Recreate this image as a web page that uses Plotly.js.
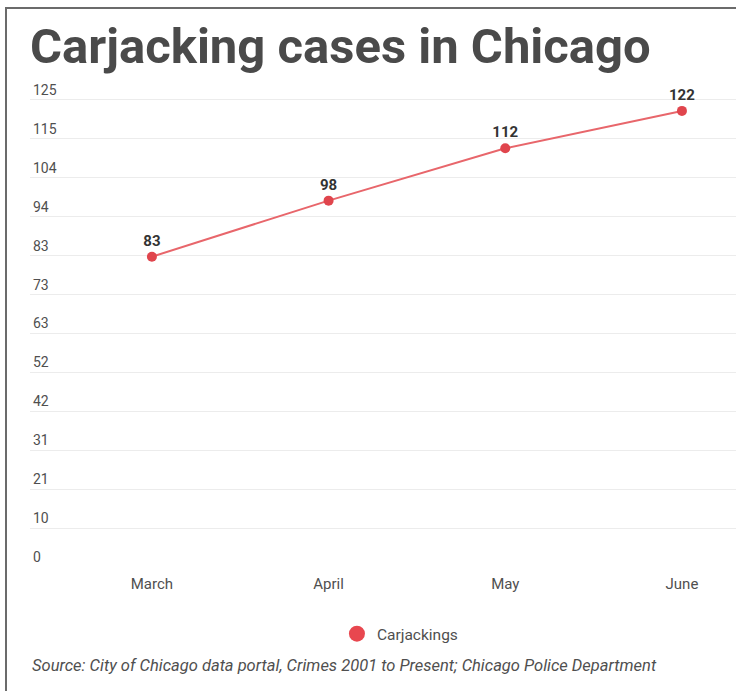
<!DOCTYPE html>
<html>
<head>
<meta charset="utf-8">
<script src="https://cdn.plot.ly/plotly-3.0.1.min.js"></script>
<style>
html,body{margin:0;padding:0;background:#fff;overflow:hidden;}
#chart{position:absolute;left:0;top:0;width:736px;height:691px;}
#frame{position:absolute;left:5px;top:7px;width:800px;height:800px;border-top:2px solid #6b6b6b;border-left:2px solid #6b6b6b;pointer-events:none;}
</style>
</head>
<body>
<div id="chart"></div>
<div id="frame"></div>
<script>
const months = ["March", "April", "May", "June"];
const carjackings = [83, 98, 112, 122];
const yTickLabels = ["0","10","21","31","42","52","63","73","83","94","104","115","125"];
const yMax = 125;
const seriesName = "Carjackings";
const titleText = "Carjacking cases in Chicago";
const sourceText = "Source: City of Chicago data portal, Crimes 2001 to Present; Chicago Police Department";

const yTickVals = yTickLabels.map((_, i) => i * yMax / (yTickLabels.length - 1));

const traces = [
  {
    x: months,
    y: carjackings,
    type: "scatter",
    mode: "lines+markers+text",
    text: carjackings.map(String),
    textposition: "top center",
    cliponaxis: false,
    textfont: {family: "Roboto", size: 15, color: "#333333", weight: 700},
    line: {color: "#e8666b", width: 2},
    marker: {color: "#e0454d", size: 10},
    showlegend: false,
    hoverinfo: "x+y"
  },
  {
    x: [null],
    y: [null],
    type: "scatter",
    mode: "markers",
    name: seriesName,
    marker: {color: "#e8474f", size: 16},
    showlegend: true
  }
];

const layout = {
  width: 736,
  height: 691,
  paper_bgcolor: "#ffffff",
  plot_bgcolor: "#ffffff",
  margin: {l: 30, r: 0, t: 81.3, b: 124},
  font: {family: "Roboto", color: "#555555"},
  title: {
    text: titleText,
    font: {family: "Roboto", size: 49, color: "#4a4a4a", weight: 700},
    xref: "container", yref: "container",
    x: 30 / 736, xanchor: "left",
    y: 1 - 46 / 691, yanchor: "middle"
  },
  xaxis: {
    type: "category",
    range: [-0.69, 3.306],
    showgrid: false,
    zeroline: false,
    showline: false,
    ticks: "outside",
    ticklen: 3,
    tickcolor: "rgba(0,0,0,0)",
    tickfont: {family: "Roboto", size: 15, color: "#4f4f4f"},
    fixedrange: true
  },
  yaxis: {
    range: [0, 130],
    tickvals: yTickVals,
    ticktext: yTickLabels,
    ticklabelposition: "inside top",
    tickfont: {family: "Roboto", size: 14, color: "#4f4f4f"},
    showgrid: true,
    gridcolor: "#ececec",
    gridwidth: 1,
    zeroline: false,
    showline: false,
    ticks: "",
    fixedrange: true
  },
  legend: {
    orientation: "h",
    x: 0.524, xanchor: "center",
    y: -0.138, yanchor: "middle",
    font: {family: "Roboto", size: 15.5, color: "#4f4f4f"}
  },
  annotations: [
    {
      text: "<i>" + sourceText + "</i>",
      xref: "paper", yref: "paper",
      x: 0, xanchor: "left",
      y: -0.202, yanchor: "middle",
      showarrow: false,
      font: {family: "Roboto", size: 16.5, color: "#4f4f4f"}
    }
  ],
  showlegend: true
};

Plotly.newPlot("chart", traces, layout, {displayModeBar: false, staticPlot: true});
</script>
</body>
</html>
